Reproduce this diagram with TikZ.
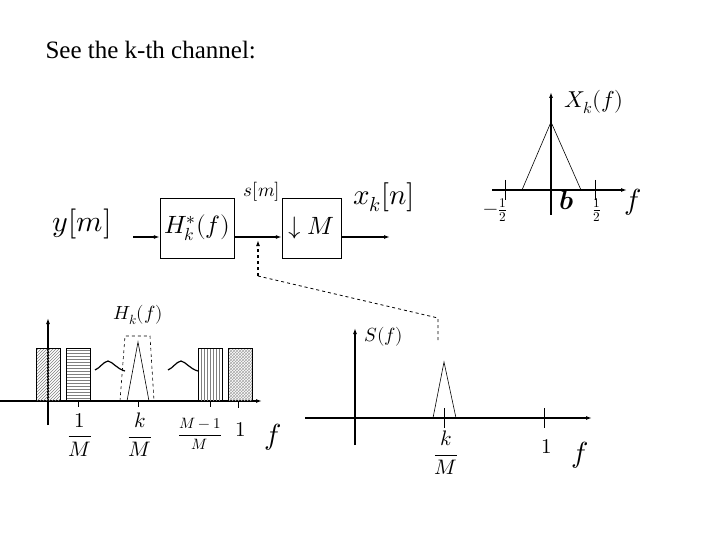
\documentclass[tikz,border=0pt]{standalone}
\usepackage{fontspec}
\setmainfont{Liberation Serif}
\usepackage{unicode-math}
\setmathfont{Latin Modern Math}
\usetikzlibrary{patterns,arrows.meta}
\begin{document}
\begin{tikzpicture}[x=1pt,y=-1pt,
  blk/.style={draw,minimum width=74pt,minimum height=60pt,inner sep=0pt,font=\fontsize{25}{27}\selectfont},
  ar/.style={-{Latex[length=6pt,width=4pt]},line width=1.2pt},
  ax/.style={-{Latex[length=6pt,width=4pt]},line width=1.4pt},
  thin/.style={line width=0.6pt},
  lbl/.style={inner sep=0pt,font=\fontsize{19}{20}\selectfont}]
\useasboundingbox (0,0) rectangle (720,540);
\node[anchor=west,font=\fontsize{25}{27}\selectfont] (t) at (42,50) {See the k-th channel:};
% block diagram
\node[font=\fontsize{30}{32}\selectfont] (y) at (82,224) {$y[m]$};
\coordinate (yin) at (133,237);
\node[blk] (h) at (197,228) {$H_k^*(f)$};
\node[blk,minimum width=59pt] (d) at (311.5,228) {$\downarrow M$};
\coordinate (out) at (390,237);
\draw[ar] (yin) -- (h.west|-yin);
\draw[ar] (h.east|-yin) -- (d.west|-yin);
\draw[ar] (d.east|-yin) -- (out);
\node[lbl] (s) at (262,192) {$s[m]$};
\node[font=\fontsize{29}{31}\selectfont] (x) at (384,197) {$x_k[n]$};
\coordinate (da) at (438,340);
\coordinate (db) at (438,318);
\coordinate (dc) at (258,276);
\coordinate (dd) at (258,240);
\draw[dashed,line width=0.8pt] (da) -- (db) -- (dc);
\draw[dashed,line width=1.4pt,-{Latex[length=6pt,width=4pt]}] (dc) -- (dd);
% top-right plot
\coordinate (a1) at (492,190); \coordinate (a2) at (627,190);
\coordinate (v1) at (551,215); \coordinate (v2) at (551,92);
\draw[ax] (a1) -- (a2); \draw[ax] (v1) -- (v2);
\draw[thin] (505,180) -- (505,200) (595,180) -- (595,200);
\draw[thin] (522,190) -- (551,122) -- (581,190);
\node[lbl,font=\fontsize{23}{25}\selectfont] (X) at (594,102) {$X_k(f)$};
\node[lbl] (m12) at (495,210) {$-\frac12$};
\node[lbl,font=\fontsize{27}{29}\selectfont] (b) at (567,200) {$\symbfit{b}$};
\node[lbl] (p12) at (597,210) {$\frac12$};
\node[lbl,font=\fontsize{29}{31}\selectfont] (f1) at (633,202) {$f$};
% bottom-left plot
\draw[ax] (0,401) -- (262,401); \draw[ax] (48,425) -- (48,318);
\draw[pattern=north east lines,pattern color=gray] (36,348) rectangle (60,401);
\draw[pattern=horizontal lines,pattern color=gray] (66,348) rectangle (90,401);
\draw[pattern=vertical lines,pattern color=gray] (198,348) rectangle (222,401);
\draw[pattern=crosshatch,pattern color=gray!70] (228,348) rectangle (252,401);
\draw[dashed,thin] (120,401) -- (125,336) -- (150,336) -- (154,401);
\draw[thin] (127,401) -- (138,342) -- (149,401);
\draw[line width=1.2pt] (95,370) .. controls (100,368) and (103,362) .. (108,361) .. controls (113,362) and (117,369) .. (125,371);
\draw[line width=1.2pt] (168,370) .. controls (173,368) and (176,362) .. (181,361) .. controls (186,362) and (190,369) .. (198,371);
\draw[thin] (78,401) -- (78,407) (138,401) -- (138,407) (210,401) -- (210,407) (238,401) -- (238,408);
\node[lbl] (h2) at (138,315) {$H_k(f)$};
\node[lbl,font=\fontsize{21}{23}\selectfont] (l1) at (80,435) {$\dfrac{1}{M}$};
\node[lbl,font=\fontsize{21}{23}\selectfont] (l2) at (140,435) {$\dfrac{k}{M}$};
\node[lbl,font=\fontsize{15}{16}\selectfont] (l3) at (200,434) {$\dfrac{M-1}{M}$};
\node[lbl,font=\fontsize{21}{23}\selectfont] (l4) at (241,430) {$1$};
\node[lbl,font=\fontsize{29}{31}\selectfont] (f2) at (273,437) {$f$};
% bottom-right plot
\draw[ax] (305,418) -- (592,418); \draw[ax] (355,445) -- (355,328);
\draw[thin] (433,418) -- (444,362) -- (456,418);
\draw[thin] (444,408) -- (444,428) (544,408) -- (544,428);
\node[lbl] (S) at (384,337) {$S(f)$};
\node[lbl,font=\fontsize{21}{23}\selectfont] (l5) at (446,453) {$\dfrac{k}{M}$};
\node[lbl,font=\fontsize{21}{23}\selectfont] (l6) at (547,447) {$1$};
\node[lbl,font=\fontsize{29}{31}\selectfont] (f3) at (580,455) {$f$};
\end{tikzpicture}
\end{document}
